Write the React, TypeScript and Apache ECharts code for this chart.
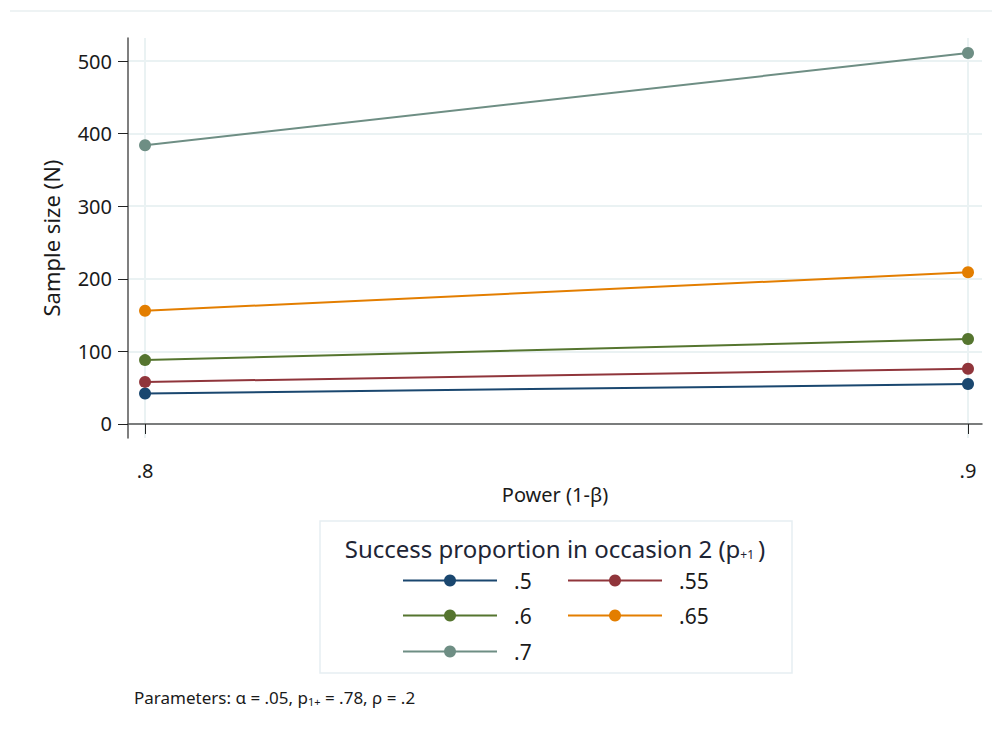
import React, { useEffect, useRef } from "react";
import * as echarts from "echarts";

const powerLevels = [0.8, 0.9];
const seriesNames = [".5", ".55", ".6", ".65", ".7"];
const sampleSizes = [
  [42, 55],
  [58, 76],
  [88, 117],
  [156, 209],
  [384, 511],
];
const seriesColors = ["#1a476f", "#90353b", "#55752f", "#e37e00", "#6e8e84"];
const yTicks = [0, 100, 200, 300, 400, 500];
const xTicks = [0.8, 0.9];

const FONT = "'Noto Sans', 'Open Sans', sans-serif";

export default function App() {
  const ref = useRef<HTMLDivElement>(null);
  useEffect(() => {
    document.body.style.margin = "0";
    const chart = echarts.init(ref.current!, null, { renderer: "svg" });
    const legendPos = [
      { left: 402, top: 570 },
      { left: 567, top: 570 },
      { left: 402, top: 605 },
      { left: 567, top: 605 },
      { left: 402, top: 641 },
    ];
    chart.setOption({
      animation: false,
      backgroundColor: "#ffffff",
      textStyle: { fontFamily: FONT },
      grid: { left: 128, right: 18, top: 38, bottom: 298, containLabel: false },
      xAxis: {
        type: "value",
        min: 0.79793,
        max: 0.9017,
        name: "Power (1-β)",
        nameLocation: "middle",
        nameGap: 41,
        nameTextStyle: { fontSize: 20, color: "#1a1a1a", fontFamily: FONT },
        axisLine: { show: true, lineStyle: { color: "#555", width: 1.5 } },
        axisTick: { show: true, length: 10, lineStyle: { color: "#222" }, customValues: xTicks },
        axisLabel: {
          customValues: xTicks,
          fontSize: 20,
          color: "#1a1a1a",
          margin: 22,
          fontFamily: FONT,
          formatter: (v: number) => String(v).replace(/^0/, ""),
        },
        splitLine: { show: true, lineStyle: { color: "#eaf2f3", width: 2 } },
      },
      yAxis: {
        type: "value",
        min: -19.3,
        max: 531.7,
        name: "Sample size (N)",
        nameLocation: "middle",
        nameGap: 66,
        nameTextStyle: { fontSize: 22, color: "#1a1a1a", fontFamily: FONT },
        axisLine: { show: true, lineStyle: { color: "#555", width: 1.5 } },
        axisTick: { show: true, length: 10, lineStyle: { color: "#222" }, customValues: yTicks },
        axisLabel: {
          customValues: yTicks,
          fontSize: 20,
          color: "#1a1a1a",
          margin: 16,
          fontFamily: FONT,
        },
        splitLine: { show: true, lineStyle: { color: "#eaf2f3", width: 2 } },
      },
      legend: seriesNames.map((n, i) => ({
        data: [n],
        left: legendPos[i].left,
        top: legendPos[i].top,
        itemWidth: 94,
        itemHeight: 15,
        itemGap: 0,
        padding: 0,
        textStyle: { fontSize: 21, color: "#1a1a1a", fontFamily: FONT, padding: [0, 0, 0, 12] },
      })),
      series: seriesNames.map((n, i) => ({
        name: n,
        type: "line",
        data: powerLevels.map((p, j) => [p, sampleSizes[i][j]]),
        symbol: "circle",
        symbolSize: 12,
        lineStyle: { color: seriesColors[i], width: 2 },
        itemStyle: { color: seriesColors[i] },
      })),
      graphic: [
        {
          type: "line",
          shape: { x1: 10, y1: 11, x2: 992, y2: 11 },
          style: { stroke: "#e8eff1", lineWidth: 1.5 },
        },
        {
          type: "rect",
          shape: { x: 320, y: 521, width: 472, height: 152 },
          style: { fill: "none", stroke: "#e6eef2", lineWidth: 1.5 },
        },
        {
          type: "text",
          x: 555,
          y: 548,
          style: {
            text: "{t|Success proportion in occasion 2 (p}{sub|+1}{c|\u2009)}",
            fontSize: 24,
            fontFamily: FONT,
            fill: "#1e2535",
            align: "center",
            verticalAlign: "middle",
            rich: {
              t: { fontSize: 24, fontFamily: FONT, fill: "#1e2535" },
              c: { fontSize: 24, fontFamily: FONT, fill: "#1e2535" },
              sub: { fontSize: 12, fontFamily: FONT, fill: "#1e2535", padding: [12, 0, 0, 0] },
            },
          },
        },
        {
          type: "text",
          x: 134,
          y: 697,
          style: {
            text: "{t|Parameters: α = .05, p}{sub|1+}{t| = .78, ρ = .2}",
            fontSize: 17,
            fontFamily: FONT,
            fill: "#1a1a1a",
            align: "left",
            verticalAlign: "middle",
            rich: {
              t: { fontSize: 17, fontFamily: FONT, fill: "#1a1a1a" },
              sub: { fontSize: 11, fontFamily: FONT, fill: "#1a1a1a", padding: [8, 0, 0, 0] },
            },
          },
        },
      ],
    });
    return () => chart.dispose();
  }, []);
  return <div ref={ref} style={{ width: 1000, height: 736 }} />;
}
